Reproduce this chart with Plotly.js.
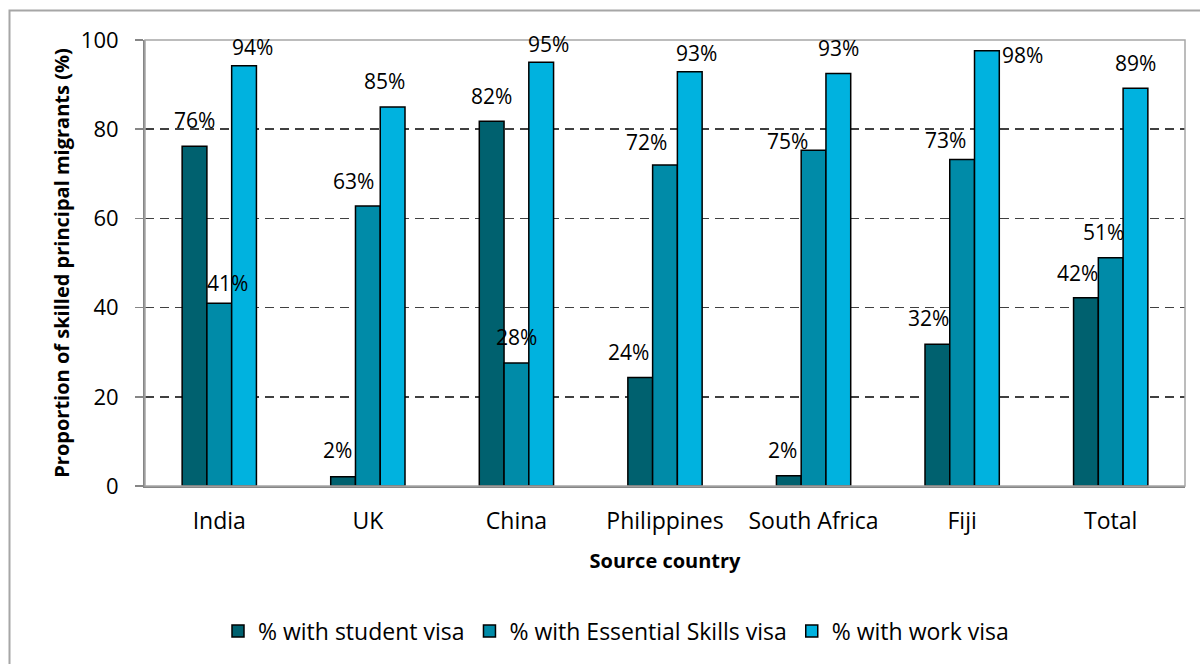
<!DOCTYPE html>
<html>
<head>
<meta charset="utf-8">
<script src="https://cdn.plot.ly/plotly-3.0.1.min.js"></script>
<style>
  html, body { margin: 0; padding: 0; background: #ffffff; }
  #chart { width: 1200px; height: 664px; }
</style>
</head>
<body>
<div id="chart"></div>
<script>
// ---- data ----
var categories = ['India', 'UK', 'China', 'Philippines', 'South Africa', 'Fiji', 'Total'];
var seriesNames = ['% with student visa', '% with Essential Skills visa', '% with work visa'];
var studentVisa = [76.2, 2.1, 81.8, 24.3, 2.3, 31.8, 42.2];
var essentialSkillsVisa = [41.0, 62.8, 27.6, 72.0, 75.3, 73.2, 51.2];
var workVisa = [94.2, 85.0, 95.0, 92.9, 92.5, 97.6, 89.2];
var yTickValues = [0, 20, 40, 60, 80, 100];

// ---- style ----
var colors = ['#00616f', '#008ba8', '#00b2df'];
var FONT = 'Open Sans, Noto Sans, sans-serif';
// label nudges in pixels relative to bar top (x shift, y shift of label centre)
var labelDx = [
  [0, -6, 0, -12, -6, -9, -8],
  [8, -14, 0, -19, -26, -17, -7],
  [8, -8, 7, 7, 0, 36, 0]
];
var labelDy = [
  [26, 27, 25, 26, 26, 26, 25],
  [20, 25, 26, 23, 9, 20, 26],
  [19, 26, 18, 19, 25, -4, 25]
];

var allSeries = [studentVisa, essentialSkillsVisa, workVisa];
var bargap = 0.5;
var barW = (1 - bargap) / 3;

var traces = allSeries.map(function (vals, s) {
  return {
    type: 'bar',
    name: seriesNames[s],
    x: categories,
    y: vals,
    marker: { color: colors[s], line: { color: '#000000', width: 1.5 } },
    hoverinfo: 'x+y'
  };
});

var annotations = [];
allSeries.forEach(function (vals, s) {
  vals.forEach(function (v, i) {
    annotations.push({
      x: i + (s - 1) * barW,
      y: v,
      xref: 'x', yref: 'y',
      text: Math.round(v) + '%',
      showarrow: false,
      xanchor: 'center', yanchor: 'middle',
      xshift: labelDx[s][i],
      yshift: labelDy[s][i],
      font: { family: FONT, size: 21, color: '#000000' }
    });
  });
});

var ml = 145, mr = 15, mt = 40, mb = 178;
var pw = 1200 - ml - mr, ph = 664 - mt - mb;

var layout = {
  width: 1200,
  height: 664,
  margin: { l: ml, r: mr, t: mt, b: mb, pad: 0 },
  paper_bgcolor: '#ffffff',
  plot_bgcolor: '#ffffff',
  barmode: 'group',
  bargap: bargap,
  bargroupgap: 0,
  font: { family: FONT, color: '#000000' },
  showlegend: true,
  legend: {
    orientation: 'h',
    x: (616 - ml) / pw,
    xanchor: 'center',
    y: -(631 - 486) / ph,
    yanchor: 'middle',
    font: { family: FONT, size: 23, color: '#000000' },
    itemwidth: 30,
    traceorder: 'normal'
  },
  xaxis: {
    type: 'category',
    showgrid: false,
    showline: true,
    linecolor: '#868686',
    linewidth: 2,
    ticks: '',
    tickfont: { family: FONT, size: 23, color: '#000000' },
    ticklabelstandoff: 13,
    title: {
      text: '<b>Source country</b>',
      font: { family: FONT, size: 20, color: '#000000' },
      standoff: 19
    },
    fixedrange: true
  },
  yaxis: {
    range: [0, 100],
    tickvals: yTickValues,
    showgrid: true,
    gridcolor: '#404040',
    gridwidth: 1.5,
    griddash: '9px,6px',
    zeroline: false,
    showline: true,
    linecolor: '#868686',
    linewidth: 2,
    ticks: 'outside',
    ticklen: 8,
    tickwidth: 1.5,
    tickcolor: '#868686',
    tickfont: { family: FONT, size: 22, color: '#000000' },
    ticklabelstandoff: 12,
    title: {
      text: '<b>Proportion of skilled principal migrants (%)</b>',
      font: { family: FONT, size: 20, color: '#000000' },
      standoff: 6
    },
    fixedrange: true
  },
  annotations: annotations,
  shapes: [
    {
      type: 'rect', xref: 'paper', yref: 'paper', layer: 'above',
      x0: 0, x1: 1, y0: 0, y1: 1,
      line: { color: '#a6a6a6', width: 1.5 }
    },
    {
      type: 'rect', xref: 'paper', yref: 'paper', layer: 'above',
      x0: (9.5 - ml) / pw, x1: 1.2, y0: -0.6, y1: (486 - 10.5) / ph,
      line: { color: '#a6a6a6', width: 2 }
    }
  ]
};

Plotly.newPlot('chart', traces, layout, { displayModeBar: false, staticPlot: true });
</script>
</body>
</html>
